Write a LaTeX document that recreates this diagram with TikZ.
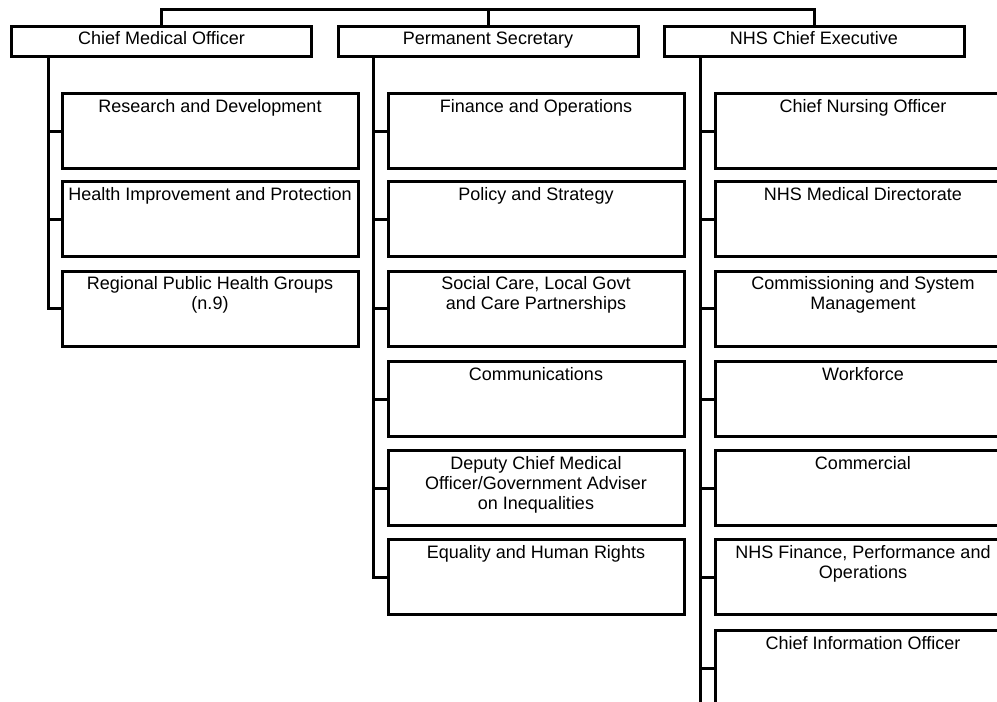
\documentclass[tikz,border=0pt]{standalone}
\usepackage{fontspec}
\setmainfont{Liberation Sans}
% text of a unit box, set from the top
\newcommand{\unittext}[1]{\parbox[c][75pt][t]{294pt}{\centering\rule{0pt}{18.5pt}#1}}

\begin{document}
\begin{tikzpicture}[x=1pt,y=-1pt,line width=3pt,
  font=\fontsize{18}{20}\selectfont,
  head/.style={draw,minimum width=300pt,minimum height=30pt,inner sep=0pt,text height=13pt,text depth=8pt},
  unit/.style={draw,minimum width=296pt,minimum height=75pt,inner sep=0pt}]
\useasboundingbox (0,0) rectangle (997,702);
\clip (0,0) rectangle (997,702);
% heads
\node[head] (cmo) at (161.5,41.5) {Chief Medical Officer};
\node[head] (ps) at (488,41.5) {Permanent Secretary};
\node[head] (nhs) at (814,41.5) {NHS Chief Executive};
\coordinate (top) at (488,9);
\draw (cmo.north) |- (top) -| (nhs.north);
\draw (ps.north) -- (top);
% Chief Medical Officer
\node[unit] (cmo1) at (210,131) {\unittext{Research and Development}};
\node[unit] (cmo2) at (210,219) {\unittext{Health Improvement and Protection}};
\node[unit] (cmo3) at (210,308.5) {\unittext{Regional Public Health Groups\\(n.9)}};
% Permanent Secretary
\node[unit] (ps1) at (536,131) {\unittext{Finance and Operations}};
\node[unit] (ps2) at (536,219) {\unittext{Policy and Strategy}};
\node[unit] (ps3) at (536,308.5) {\unittext{Social Care, Local Govt\\and Care Partnerships}};
\node[unit] (ps4) at (536,399) {\unittext{Communications}};
\node[unit] (ps5) at (536,488) {\unittext{Deputy Chief Medical\\Officer/Government Adviser\\on Inequalities}};
\node[unit] (ps6) at (536,577) {\unittext{Equality and Human Rights}};
% NHS Chief Executive
\node[unit] (nhs1) at (863,131) {\unittext{Chief Nursing Officer}};
\node[unit] (nhs2) at (863,219) {\unittext{NHS Medical Directorate}};
\node[unit] (nhs3) at (863,308.5) {\unittext{Commissioning and System\\Management}};
\node[unit] (nhs4) at (863,399) {\unittext{Workforce}};
\node[unit] (nhs5) at (863,488) {\unittext{Commercial}};
\node[unit] (nhs6) at (863,577) {\unittext{NHS Finance, Performance and\\Operations}};
\node[unit] (nhs7) at (863,668) {\unittext{Chief Information Officer}};
% spines
\coordinate (cmospine) at (48,0);
\coordinate (psspine) at (373,0);
\coordinate (nhsspine) at (700,0);
\coordinate (nhsend) at (700,712);
\draw (cmo.south -| cmospine) |- (cmo3.west);
\foreach \i in {1,2} \draw (cmo\i.west -| cmospine) -- (cmo\i.west);
\draw (ps.south -| psspine) |- (ps6.west);
\foreach \i in {1,...,5} \draw (ps\i.west -| psspine) -- (ps\i.west);
\draw (nhs.south -| nhsspine) -- (nhsend);
\foreach \i in {1,...,7} \draw (nhs\i.west -| nhsspine) -- (nhs\i.west);
\end{tikzpicture}
\end{document}
